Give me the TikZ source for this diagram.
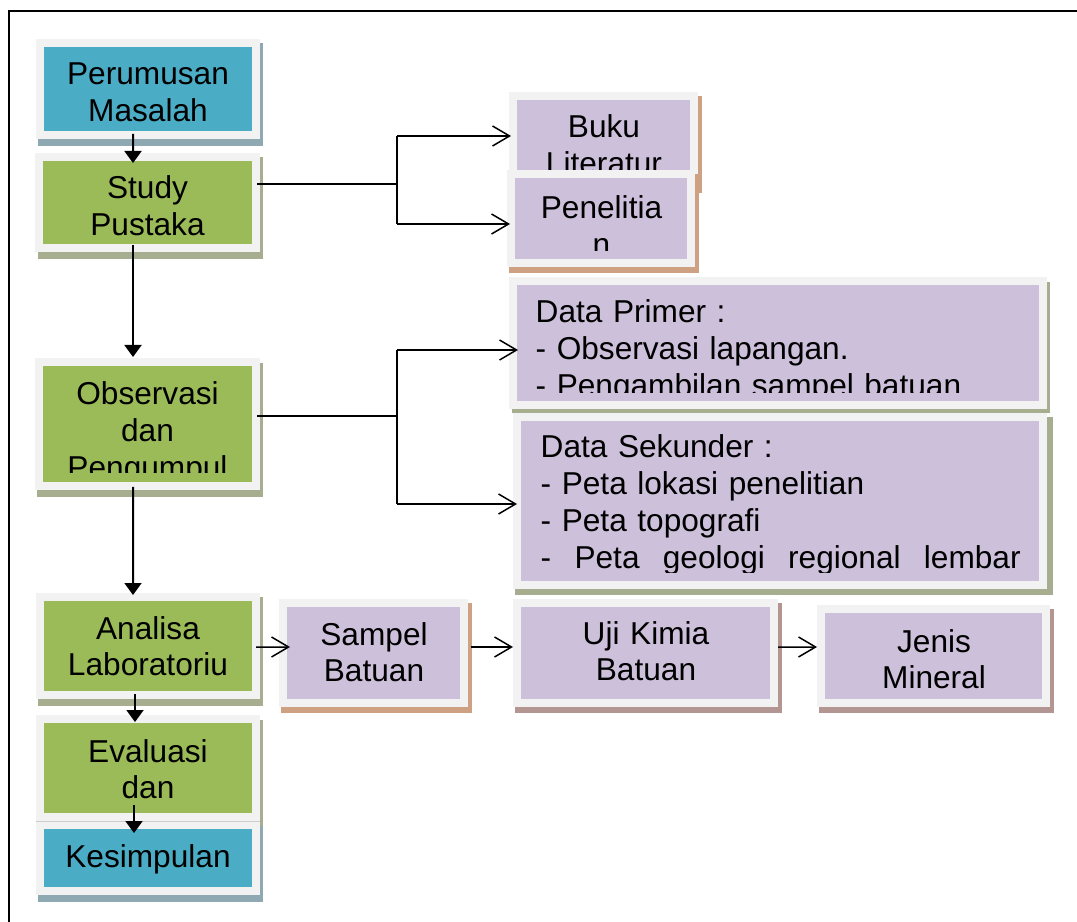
\documentclass[tikz,border=0pt]{standalone}
\usepackage{fontspec}
\setmainfont{Liberation Sans}
\usepackage{xcolor}
\usepackage{tikz}
\usetikzlibrary{arrows.meta}

\definecolor{boxblue}{HTML}{4BACC6}
\definecolor{boxgreen}{HTML}{9BBB59}
\definecolor{boxlilac}{HTML}{CCC0DA}
\definecolor{rim}{HTML}{F2F2F2}
\definecolor{shblue}{HTML}{8FA9B3}
\definecolor{shgreen}{HTML}{A6AE8F}
\definecolor{shtan}{HTML}{CDA182}
\definecolor{shmauve}{HTML}{B39592}

\tikzset{
  rimbox/.style={draw=rim, line width=0.8mm, inner sep=0pt},
  txt/.style={anchor=base, inner sep=0pt, text width=20mm, align=center, font=\fontsize{9}{10.5}\selectfont},
  txtleft/.style={anchor=base west, inner sep=0pt, text width=48mm, align=left, font=\fontsize{9}{10.5}\selectfont},
  flow/.style={line width=0.2mm, -{Triangle[length=1.2mm,width=1.7mm]}},
  link/.style={line width=0.18mm},
  branch/.style={line width=0.15mm, -{Straight Barb[length=1.7mm,width=2mm]}}
}

\begin{document}
\begin{tikzpicture}[x=0.1mm,y=-0.1mm]
		\useasboundingbox (0,0) rectangle (1077,921);
		% frame
		\draw[line width=0.2mm] (9,930) -- (9,11) -- (1085,11);

		% left column
		\fill[shblue] (38,43) rectangle (263,146);
		\node[rimbox, fill=boxblue, minimum width=21.6mm, minimum height=9.2mm] (perumusan) at (148,89) {};
		\node[txt] (perumusan-txt) at (148,85) {Perumusan\\Masalah};

		\fill[shgreen] (38,157) rectangle (263,259);
		\node[rimbox, fill=boxgreen, minimum width=21.7mm, minimum height=9.1mm] (study) at (147.5,202.5) {};
		\node[txt] (study-txt) at (147.5,199) {Study\\Pustaka};

		\fill[shgreen] (37,363) rectangle (263,497);
		\node[rimbox, fill=boxgreen, minimum width=21.7mm, minimum height=12.4mm] (observasi) at (147.5,424) {};
		\begin{scope}
			\clip (43,366) rectangle (252,473);
			\node[txt] (observasi-txt) at (147.5,405) {Observasi\\dan\\Pengumpul};
		\end{scope}

		\fill[shgreen] (38,597) rectangle (263,706);
		\node[rimbox, fill=boxgreen, minimum width=21.6mm, minimum height=9.8mm] (analisa) at (148,646) {};
		\node[txt] (analisa-txt) at (148,639) {Analisa\\Laboratoriu};

		\fill[shgreen] (38,720) rectangle (263,828);
		\node[rimbox, fill=boxgreen, minimum width=21.6mm, minimum height=9.8mm] (evaluasi) at (148,768) {};
		\node[txt] (evaluasi-txt) at (148,762) {Evaluasi\\dan};

		\fill[shblue] (38,826) rectangle (263,902);
		\node[rimbox, fill=boxblue, minimum width=21.6mm, minimum height=6.6mm] (kesimpulan) at (148,858) {};
		\draw[line width=0.1mm, black!20] (kesimpulan.north west) -- (kesimpulan.north east);
		\node[txt] (kesimpulan-txt) at (148,867) {Kesimpulan};

		% sources
		\fill[shtan] (511,96) rectangle (702,193);
		\node[rimbox, fill=boxlilac, minimum width=18.1mm, minimum height=8.7mm] (buku) at (603.5,139.5) {};
		\begin{scope}
			\clip (517,99) rectangle (691,170);
			\node[txt] (buku-txt) at (604,138) {Buku\\Literatur};
		\end{scope}

		\fill[shtan] (509,174) rectangle (699,273);
		\node[rimbox, fill=boxlilac, minimum width=18.0mm, minimum height=8.9mm] (penelitian) at (601,218.5) {};
		\begin{scope}
			\clip (515,179) rectangle (688,251);
			\node[txt] (penelitian-txt) at (601.5,219) {Penelitia\\n};
		\end{scope}

		% data
		\fill[shgreen] (512,282) rectangle (1050,413);
		\node[rimbox, fill=boxlilac, minimum width=53.0mm, minimum height=12.4mm] (primer) at (778,343) {};
		\begin{scope}
			\clip (517,285) rectangle (1038,393);
			\node[txtleft] (primer-txt) at (535,323) {Data Primer :\\- Observasi lapangan.\\- Pengambilan sampel batuan};
		\end{scope}

		\fill[shgreen] (515,417) rectangle (1053,595);
		\node[rimbox, fill=boxlilac, minimum width=52.6mm, minimum height=16.8mm] (sekunder) at (780,501) {};
		\begin{scope}
			\clip (521,420) rectangle (1040,572);
			\node[txtleft] (sekunder-txt) at (540,458) {Data Sekunder :\\- Peta lokasi penelitian\\- Peta topografi\\\makebox[48mm][l]{-\hfill Peta\hfill geologi\hfill regional\hfill lembar}};
		\end{scope}

		% laboratory row
		\fill[shtan] (281,603) rectangle (472,713);
		\node[rimbox, fill=boxlilac, minimum width=18.1mm, minimum height=10.0mm] (sampel) at (373.5,653) {};
		\node[txt] (sampel-txt) at (374,645) {Sampel\\Batuan};

		\fill[shmauve] (515,603) rectangle (782,713);
		\node[rimbox, fill=boxlilac, minimum width=25.7mm, minimum height=10.0mm] (uji) at (645.5,653) {};
		\node[txt] (uji-txt) at (646,644) {Uji Kimia\\Batuan};

		\fill[shmauve] (819,609) rectangle (1054,713);
		\node[rimbox, fill=boxlilac, minimum width=22.5mm, minimum height=9.4mm] (jenis) at (933.5,656) {};
		\node[txt] (jenis-txt) at (934,652) {Jenis\\Mineral};

		% flow down
		\draw[flow] ([xshift=-1.5mm,yshift=0.5mm]perumusan.south) -- ([xshift=-1.45mm,yshift=-1mm]study.north);
		\draw[flow] ([xshift=-1.45mm,yshift=0.7mm]study.south) -- ([xshift=-1.45mm,yshift=0.1mm]observasi.north);
		\draw[flow] ([xshift=-1.45mm,yshift=0.3mm]observasi.south) -- ([xshift=-1.5mm,yshift=-0.2mm]analisa.north);
		\draw[flow] ([xshift=-1.3mm,yshift=0.5mm]analisa.south) -- ([xshift=-1.3mm,yshift=-0.7mm]evaluasi.north);
		\draw[flow] ([xshift=-1.4mm,yshift=1.6mm]evaluasi.south) -- ([xshift=-1.4mm,yshift=-1.2mm]kesimpulan.north);

		% study branches
		\draw[link] ([xshift=-0.3mm,yshift=1.85mm]study.east) -- ++(14mm,0) coordinate (js);
		\coordinate (bk) at ([xshift=0.2mm,yshift=0.35mm]buku.west);
		\coordinate (pn) at ([xshift=0.3mm,yshift=-0.55mm]penelitian.west);
		\draw[link] (js |- bk) -- (js |- pn);
		\draw[branch] (js |- bk) -- (bk);
		\draw[branch] (js |- pn) -- (pn);

		% observasi branches
		\draw[link] ([xshift=-0.3mm,yshift=0.8mm]observasi.east) -- ++(14mm,0) coordinate (jo);
		\coordinate (pr) at ([xshift=0.9mm,yshift=-0.7mm]primer.west);
		\coordinate (sk) at ([xshift=0.4mm,yshift=-0.3mm]sekunder.west);
		\draw[link] (jo |- pr) -- (jo |- sk);
		\draw[branch] (jo |- pr) -- (pr);
		\draw[branch] (jo |- sk) -- (sk);

		% laboratory chain
		\draw[branch] ([xshift=-0.4mm,yshift=-0.1mm]analisa.east) -- ([xshift=1.1mm,yshift=0.6mm]sampel.west);
		\draw[branch] ([xshift=0.3mm,yshift=0.6mm]sampel.east) -- ([yshift=0.6mm]uji.west);
		\draw[branch] ([yshift=0.6mm]uji.east) -- ([yshift=0.9mm]jenis.west);
	\end{tikzpicture}
\end{document}
